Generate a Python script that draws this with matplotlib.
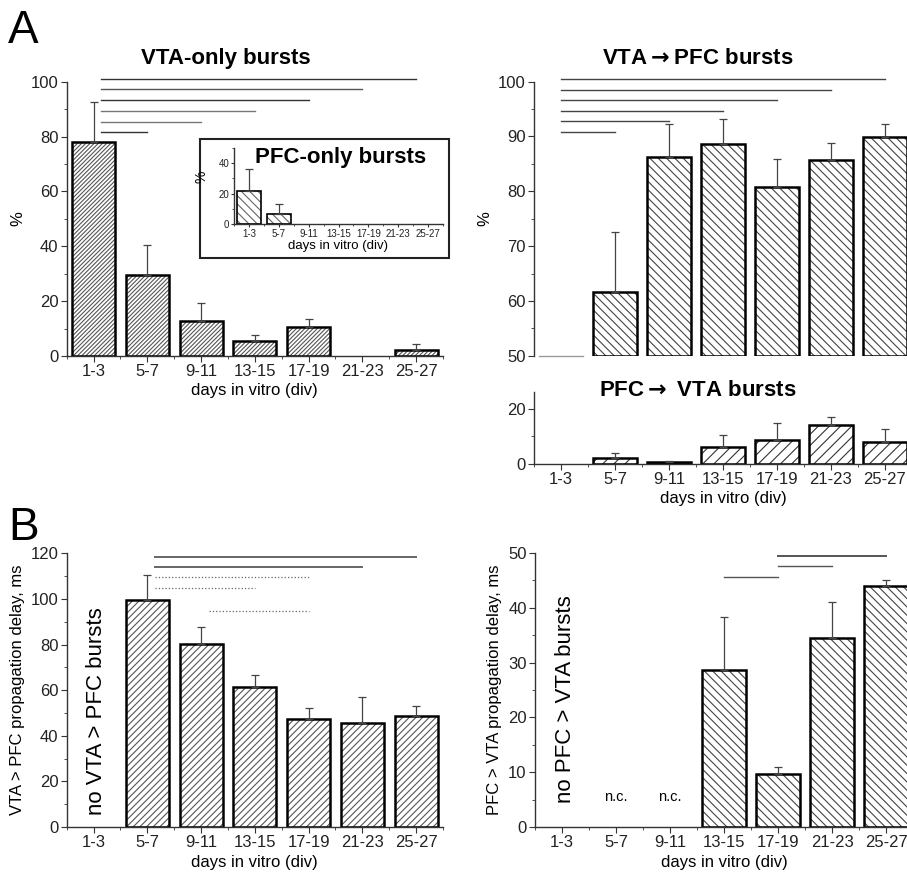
import numpy as np
import matplotlib.pyplot as plt
from matplotlib.ticker import MultipleLocator
from matplotlib.patches import Rectangle

plt.rcParams['font.family'] = ['Liberation Sans', 'DejaVu Sans']
plt.rcParams['hatch.linewidth'] = 0.8

days = ['1-3', '5-7', '9-11', '13-15', '17-19', '21-23', '25-27']

# A: VTA-only bursts (%)
vta_only = [78.0, 29.5, 12.8, 5.3, 10.5, 0.0, 2.2]
vta_only_err = [14.5, 11.0, 6.4, 2.5, 3.0, 0.0, 2.3]
vta_only_sig_end = [1, 2, 3, 4, 5, 6]
vta_only_sig_y = [81.5, 85.4, 89.4, 93.3, 97.2, 100.9]
vta_only_sig_col = ['#333333', '#777777', '#777777', '#333333', '#555555', '#333333']

# A inset: PFC-only bursts (%)
pfc_only = [21.5, 6.5, 0, 0, 0, 0, 0]
pfc_only_err = [14.5, 6.5, 0, 0, 0, 0, 0]

# A: VTA->PFC bursts (%)
vta_pfc = [50.0, 61.7, 86.2, 88.6, 80.8, 85.8, 89.9]
vta_pfc_err = [0.0, 10.8, 6.1, 4.6, 5.1, 3.1, 2.4]
vta_pfc_sig_end = [1, 2, 3, 4, 5, 6]
vta_pfc_sig_y = [90.8, 92.8, 94.7, 96.6, 98.5, 100.5]

# A: PFC->VTA bursts (%)
pfc_vta = [0.0, 2.2, 0.7, 6.1, 8.7, 14.2, 7.9]
pfc_vta_err = [0.0, 1.6, 0.3, 4.3, 6.2, 2.9, 4.6]

# B: VTA > PFC propagation delay (ms)
delay_vp = [0, 99.6, 80.4, 61.6, 47.3, 45.8, 48.6]
delay_vp_err = [0, 10.8, 7.2, 5.0, 4.7, 11.1, 4.4]
delay_vp_sig = [(1, 6, 118.5, '-'), (1, 5, 114.0, '-'), (1, 4, 109.5, ':'),
                (1, 3, 104.8, ':'), (2, 4, 94.7, ':')]

# B: PFC > VTA propagation delay (ms)
delay_pv = [0, 0, 0, 28.65, 9.73, 34.55, 44.0]
delay_pv_err = [0, 0, 0, 9.65, 1.2, 6.55, 1.1]
delay_pv_sig = [(3, 4, 45.6), (4, 5, 47.6), (4, 6, 49.4)]

W, H = 907, 875
fig = plt.figure(figsize=(W / 100, H / 100), dpi=100)


def px_axes(x0, x1, y_top, y_bot):
    return fig.add_axes([x0 / W, 1 - y_bot / H, (x1 - x0) / W, (y_bot - y_top) / H])


def style(ax, major, minor, fs=12, bottom=True):
    for s in ['top', 'right']:
        ax.spines[s].set_visible(False)
    for s in ['left', 'bottom']:
        ax.spines[s].set_color('#333333')
        ax.spines[s].set_linewidth(1.0)
    ax.spines['bottom'].set_visible(bottom)
    ax.set_xlim(-0.5, 6.5)
    ax.yaxis.set_major_locator(MultipleLocator(major))
    ax.yaxis.set_minor_locator(MultipleLocator(minor))
    ax.tick_params(axis='y', which='major', length=4, labelsize=fs, colors='#333333',
                   labelcolor='#222222', pad=2)
    ax.tick_params(axis='y', which='minor', length=2.5, colors='#333333')
    if bottom:
        ax.set_xticks(range(7))
        ax.set_xticklabels(days)
        ax.set_xticks(np.arange(-0.5, 7, 1), minor=True)
        ax.tick_params(axis='x', which='major', length=4, labelsize=fs, colors='#333333',
                       labelcolor='#222222', pad=2)
        ax.tick_params(axis='x', which='minor', length=2.5, colors='#333333')
    else:
        ax.set_xticks([])


def bars(ax, vals, errs, hatch, lw=1.8, hcol='#444444', base=0):
    x = np.arange(len(vals))
    v = np.array(vals, float) - base
    ax.bar(x, v, 0.8, bottom=base, color='white', edgecolor=hcol, linewidth=0, hatch=hatch)
    show = v > 0
    ax.bar(x[show], v[show], 0.8, bottom=base, fill=False, edgecolor='black', linewidth=lw)
    e = np.array(errs, float)
    m = e > 0
    ax.errorbar(x[m], np.array(vals)[m], yerr=[np.zeros(m.sum()), e[m]], fmt='none',
                ecolor='#444444', elinewidth=0.9, capsize=3, capthick=0.9)


# ---------- A left: VTA-only ----------
ax1 = px_axes(66.7, 443, 81.7, 356)
style(ax1, 20, 10)
ax1.set_ylim(0, 100)
bars(ax1, vta_only, vta_only_err, '////////', hcol='#555555')
for xe, y, c in zip(vta_only_sig_end, vta_only_sig_y, vta_only_sig_col):
    ax1.plot([0.13, xe], [y, y], color=c, lw=1.0, clip_on=False)
ax1.set_ylabel('%', fontsize=12)
ax1.set_xlabel('days in vitro (div)', fontsize=12, labelpad=3)
ax1.text(2.46, 108.5, 'VTA-only bursts', ha='center', va='center', fontsize=16,
         fontweight='bold')

# inset box
fig.patches.append(Rectangle((200 / W, 1 - 258 / H), 249 / W, 119 / H, transform=fig.transFigure,
                             fill=True, facecolor='white', edgecolor='#222222', lw=1.5, zorder=2))
axi = px_axes(234, 443, 147.75, 224)
axi.set_zorder(3)
axi.patch.set_alpha(0)
style(axi, 20, 10, fs=7)
axi.set_ylim(0, 50)
axi.tick_params(axis='both', which='major', length=2.5, pad=1)
axi.tick_params(axis='both', which='minor', length=1.5)
bars(axi, pfc_only, pfc_only_err, '\\\\\\\\', lw=1.2, hcol='#666666')
axi.set_ylabel('%', fontsize=10)
axi.yaxis.set_label_coords(-0.12, 0.62)
axi.set_xlabel('days in vitro (div)', fontsize=9.5, labelpad=1)
axi.text(0.51, 0.87, 'PFC-only bursts', transform=axi.transAxes, ha='center', va='center',
         fontsize=16, fontweight='bold')

# ---------- A right top: VTA->PFC ----------
ax2 = px_axes(534, 912, 81.7, 355.7)
style(ax2, 10, 5, bottom=False)
ax2.set_ylim(50, 100)
bars(ax2, vta_pfc, vta_pfc_err, '\\\\\\\\', base=50)
ax2.plot([-0.4, 0.4], [50, 50], color='#999999', lw=1.0, clip_on=False)
for xe, y in zip(vta_pfc_sig_end, vta_pfc_sig_y):
    ax2.plot([0, xe], [y, y], color='#444444', lw=1.0, clip_on=False)
ax2.set_ylabel('%', fontsize=12)
ax2.text(2.54, 104.3, 'VTA$\\mathbf{\\rightarrow}$PFC bursts', ha='center', va='center',
         fontsize=16, fontweight='bold')

# ---------- A right bottom: PFC->VTA ----------
ax3 = px_axes(534, 912, 392, 464)
style(ax3, 20, 10)
ax3.set_ylim(0, 26)
bars(ax3, pfc_vta, pfc_vta_err, '///', hcol='#333333')
ax3.set_xlabel('days in vitro (div)', fontsize=12, labelpad=3)
ax3.text(2.54, 26.4, 'PFC$\\mathbf{\\rightarrow}$ VTA bursts', ha='center', va='center',
         fontsize=16, fontweight='bold')

# ---------- B left ----------
ax4 = px_axes(66.7, 443, 553.3, 827)
style(ax4, 20, 10)
ax4.set_ylim(0, 120)
bars(ax4, delay_vp, delay_vp_err, '/////', hcol='#555555')
for xs, xe, y, ls in delay_vp_sig:
    ax4.plot([xs + 0.15, xe], [y, y], color='#666666', lw=1.4 if ls == '-' else 0.9,
             ls=ls, clip_on=False)
ax4.set_ylabel('VTA > PFC propagation delay, ms', fontsize=12)
ax4.set_xlabel('days in vitro (div)', fontsize=12, labelpad=3)
ax4.text(0.06, 51, 'no VTA > PFC bursts', rotation=90, ha='center', va='center', fontsize=16)

# ---------- B right ----------
ax5 = px_axes(535, 913, 553, 827)
style(ax5, 10, 5)
ax5.set_ylim(0, 50)
bars(ax5, delay_pv, delay_pv_err, '\\\\\\\\', hcol='#444444')
for xs, xe, y in delay_pv_sig:
    ax5.plot([xs, xe], [y, y], color='#555555', lw=1.4 if xe == 6 else 1.0, clip_on=False)
for i in [1, 2]:
    ax5.text(i, 5.5, 'n.c.', ha='center', va='center', fontsize=10.5)
ax5.set_ylabel('PFC > VTA propagation delay, ms', fontsize=12)
ax5.set_xlabel('days in vitro (div)', fontsize=12, labelpad=3)
ax5.text(0.056, 23.4, 'no PFC > VTA bursts', rotation=90, ha='center', va='center', fontsize=16)

fig.text(8 / W, 1 - 43 / H, 'A', fontsize=33)
fig.text(8 / W, 1 - 540 / H, 'B', fontsize=33)

fig.savefig('out.png', dpi=100)
